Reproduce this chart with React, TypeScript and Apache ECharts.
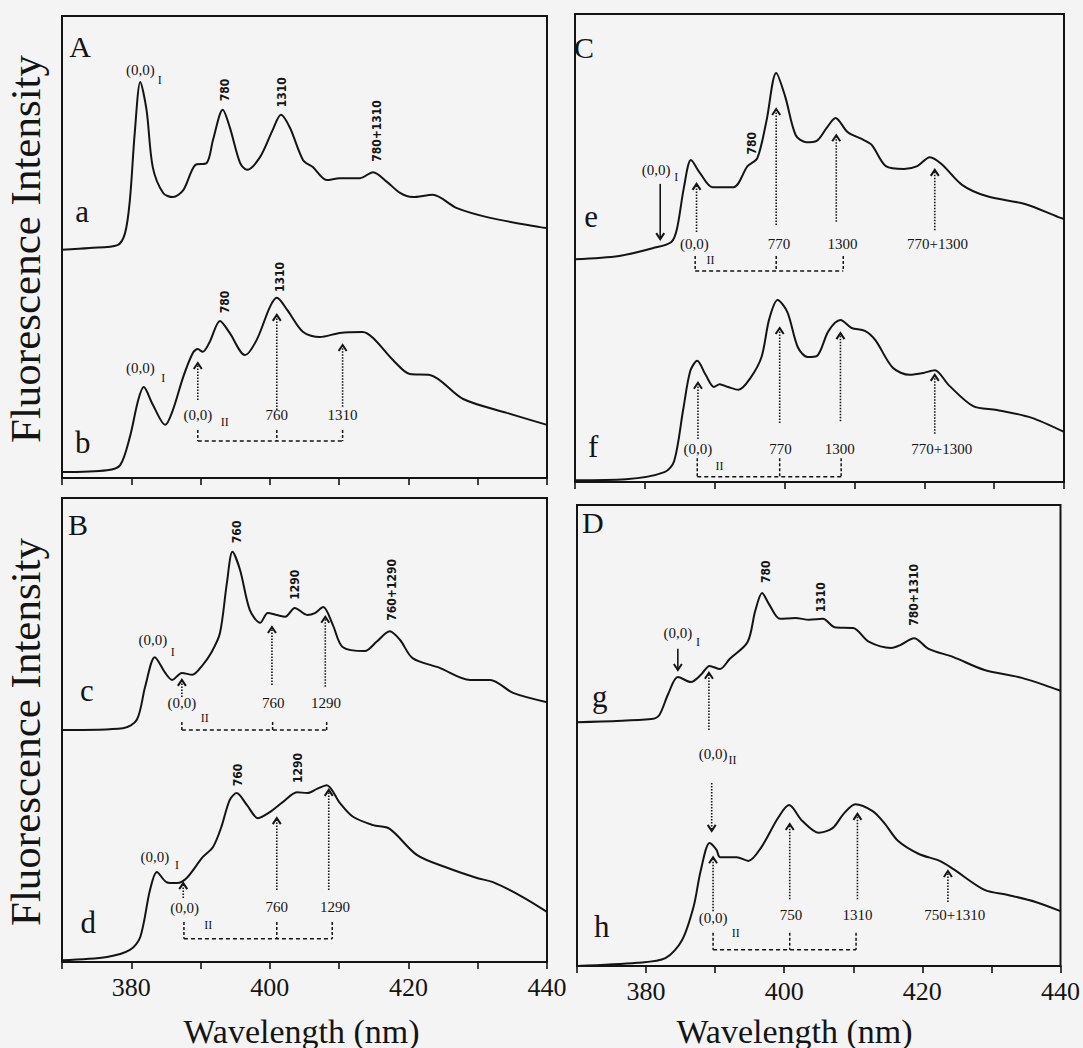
import React, { useEffect, useRef } from "react";
import * as echarts from "echarts";

// ---------- data (wavelength in nm, intensity in arbitrary units, offset per panel) ----------
const WL_MIN = 370;
const WL_MAX = 440;
const tickLabels = [380, 400, 420, 440];

// Panel A, curve a
const aWl = [370, 374, 378, 379.1, 379.8, 380.5, 381.3, 382.2, 383.1, 384.6, 386, 387.5, 389.2, 390.9, 391.8, 393.2, 394.2, 395.7, 396.7, 398.6, 400.4, 401.6, 402.9, 404.8, 406.2, 408.2, 410.1, 413, 414.9, 416.9, 418.8, 420.6, 423.5, 427, 431.8, 439, 440];
const aInt = [49.4, 49.8, 50.4, 53.0, 60.2, 74.7, 85.7, 79.7, 67.3, 61.7, 60.8, 62.3, 67.7, 68.2, 73.2, 79.7, 76.0, 68.2, 66.7, 69.5, 75.3, 78.6, 75.8, 68.8, 67.3, 64.5, 64.9, 64.9, 66.2, 64.1, 61.7, 60.8, 61.3, 58.4, 56.3, 54.3, 54.1];
// Panel A, curve b
const bWl = [370, 376.5, 378.4, 379.8, 381, 381.8, 383, 384.9, 386, 387.5, 388.9, 389.6, 390.3, 391.3, 392.8, 394.2, 396.4, 398.1, 400, 401, 402.5, 404.8, 407.2, 410.1, 413.4, 414.9, 417.8, 420.2, 423.1, 427.9, 434.2, 440];
const bInt = [1.3, 1.7, 2.8, 8.9, 16.9, 19.7, 16.2, 11.5, 14.7, 21.9, 27.1, 27.9, 27.3, 29.4, 34.0, 31.4, 26.6, 29.9, 37.0, 39.0, 36.4, 31.6, 30.5, 31.4, 31.6, 30.3, 25.5, 22.5, 22.3, 17.1, 14.1, 11.5];
// Panel B, curve c
const cWl = [370, 378.8, 380.8, 382, 383.4, 384.9, 385.9, 387.3, 388.8, 390.3, 391.6, 392.8, 393.8, 394.6, 395.7, 397.1, 398.6, 399.7, 401, 402.2, 403.6, 405.4, 406.5, 407.7, 409.1, 410.5, 413.7, 415.4, 417.3, 418.8, 420.6, 424.5, 428.9, 431.8, 435.1, 440];
const cInt = [50.0, 50.4, 52.2, 59.3, 65.7, 62.3, 60.8, 62.3, 61.9, 64.0, 66.8, 70.9, 81.7, 88.4, 84.5, 75.9, 73.1, 75.2, 74.8, 74.4, 76.3, 74.8, 75.2, 76.5, 72.6, 67.9, 67.0, 69.0, 71.3, 69.4, 65.5, 63.4, 60.8, 60.8, 58.0, 56.0];
// Panel B, curve d
const dWl = [370, 376.5, 379.8, 381.3, 382.7, 383.7, 385.1, 386.6, 388, 390.3, 391.8, 393, 394.2, 395.2, 396.7, 398.3, 400, 401.9, 403.9, 405.4, 406.8, 408.2, 410.1, 412, 414.9, 417.3, 421.2, 425.6, 429.9, 432.2, 436.5, 440];
const dInt = [0.4, 1.1, 2.6, 5.4, 15.5, 19.4, 17.2, 17.0, 18.1, 22.6, 24.8, 29.1, 34.9, 36.4, 33.8, 31.0, 32.3, 34.5, 36.6, 36.4, 37.3, 38.1, 34.3, 31.3, 29.5, 28.7, 23.1, 20.3, 18.1, 17.2, 14.0, 10.8];
// Panel C, curve e
const eWl = [370, 376.3, 381.2, 383.8, 384.6, 385.6, 386.6, 387.9, 389.7, 392.7, 394.7, 396.1, 397.4, 398.8, 400.1, 401.6, 403.1, 404.6, 406, 407.3, 409, 411.3, 412.5, 414.5, 417.1, 419, 420.8, 422.5, 425.4, 428.9, 434.4, 439.2, 440];
const eInt = [47.6, 48.3, 50.0, 51.3, 54.1, 63.0, 68.8, 66.0, 63.0, 63.0, 67.5, 69.2, 77.1, 87.4, 82.3, 74.1, 72.6, 72.9, 75.6, 77.8, 74.8, 73.1, 72.0, 67.5, 66.9, 67.5, 69.4, 67.9, 63.5, 61.1, 59.4, 56.6, 56.2];
// Panel C, curve f
const fWl = [370, 377.3, 382.8, 384.2, 385.5, 386.5, 387.5, 388.7, 389.9, 390.7, 391.9, 393.4, 395.1, 396.7, 397.8, 399, 400.4, 401.9, 403.3, 404.6, 406.3, 408, 409.6, 411.5, 413, 415.5, 417.9, 419.9, 421.5, 423.5, 427, 430.4, 435.4, 440];
const fInt = [0.4, 0.6, 2.1, 4.5, 15.6, 23.7, 25.9, 22.9, 20.3, 20.9, 20.3, 19.7, 22.2, 26.7, 34.8, 38.9, 36.3, 28.8, 26.7, 26.9, 32.3, 34.6, 32.9, 32.3, 30.3, 24.4, 22.9, 23.3, 23.9, 20.7, 16.2, 15.4, 13.7, 10.7];
// Panel D, curve g
const gWl = [370, 380.8, 381.9, 383.2, 384.6, 386.5, 387.9, 389.2, 390.7, 392.1, 394.7, 395.8, 396.8, 397.8, 399.4, 401.6, 403.6, 405.6, 407.3, 410, 412.3, 415.5, 416.8, 418.8, 420.9, 424.5, 429, 434.4, 440];
const gInt = [52.9, 53.6, 54.4, 59.0, 62.7, 61.6, 63.1, 65.1, 64.4, 66.6, 70.3, 77.0, 80.9, 78.5, 75.3, 75.5, 75.1, 75.3, 73.5, 73.3, 70.3, 69.0, 69.6, 71.1, 68.8, 67.0, 64.2, 62.5, 59.7];
// Panel D, curve h
const hWl = [370, 378.7, 382.8, 385.2, 386.9, 387.9, 389.2, 390.2, 390.7, 393.1, 394.8, 396.7, 399.1, 400.7, 402.6, 405, 407, 408.6, 410.3, 412.8, 414.5, 416.5, 419.5, 422.5, 424.5, 429, 432.4, 436.4, 440];
const hInt = [0, 0.7, 1.7, 5.6, 13.0, 20.6, 26.7, 25.2, 23.6, 23.6, 22.8, 25.8, 32.1, 34.9, 31.5, 28.9, 29.9, 33.0, 35.1, 33.6, 31.0, 27.1, 24.3, 22.8, 21.0, 16.5, 15.4, 13.9, 11.9];

// curves: [panel index, wavelengths, intensities]
const curves: [number, number[], number[]][] = [
  [0, aWl, aInt], [0, bWl, bInt],
  [1, cWl, cInt], [1, dWl, dInt],
  [2, eWl, eInt], [2, fWl, fInt],
  [3, gWl, gInt], [3, hWl, hInt],
];

// annotation texts: [panel, wavelength, intensity, text, kind]
// kind: P = panel letter, c = curve letter, L = label, S = subscript, V = vertical label
const annotTexts: [number, number, number, string, string][] = [
  [0, 372.6, 93.3, "A", "P"], [0, 372.9, 57.6, "a", "c"], [0, 373.0, 7.6, "b", "c"],
  [0, 381.3, 88.3, "(0,0)", "L"], [0, 384.1, 86.1, "I", "S"],
  [0, 393.5, 84.0, "780", "V"], [0, 401.7, 83.5, "1310", "V"], [0, 415.5, 75.1, "780+1310", "V"],
  [0, 381.3, 23.8, "(0,0)", "L"], [0, 384.6, 21.6, "I", "S"],
  [0, 393.5, 38.1, "780", "V"], [0, 401.5, 43.5, "1310", "V"],
  [0, 389.6, 13.6, "(0,0)", "L"], [0, 393.5, 12.1, "II", "S"],
  [0, 401.0, 13.6, "760", "L"], [0, 410.5, 13.6, "1310", "L"],

  [1, 372.3, 94.2, "B", "P"], [1, 373.6, 58.6, "c", "c"], [1, 373.8, 8.6, "d", "c"],
  [1, 395.3, 92.7, "760", "V"], [1, 403.6, 81.3, "1290", "V"], [1, 417.6, 80.2, "760+1290", "V"],
  [1, 383.1, 69.4, "(0,0)", "L"], [1, 386.0, 66.8, "I", "S"],
  [1, 387.3, 55.8, "(0,0)", "L"], [1, 390.6, 52.6, "II", "S"],
  [1, 400.5, 55.8, "760", "L"], [1, 408.1, 55.8, "1290", "L"],
  [1, 383.4, 22.6, "(0,0)", "L"], [1, 386.6, 20.9, "I", "S"],
  [1, 395.4, 40.3, "760", "V"], [1, 404.1, 41.8, "1290", "V"],
  [1, 387.7, 11.6, "(0,0)", "L"], [1, 391.1, 8.0, "II", "S"],
  [1, 401.0, 11.9, "760", "L"], [1, 409.4, 11.9, "1290", "L"],

  [2, 371.3, 92.9, "C", "P"], [2, 372.3, 56.8, "e", "c"], [2, 372.6, 7.5, "f", "c"],
  [2, 381.6, 66.7, "(0,0)", "L"], [2, 384.5, 65.2, "I", "S"],
  [2, 395.3, 72.4, "780", "V"],
  [2, 387.1, 50.9, "(0,0)", "L"], [2, 389.4, 47.4, "II", "S"],
  [2, 399.2, 50.9, "770", "L"], [2, 408.3, 50.9, "1300", "L"], [2, 421.9, 50.9, "770+1300", "L"],
  [2, 387.6, 7.1, "(0,0)", "L"], [2, 390.7, 3.4, "II", "S"],
  [2, 399.4, 7.1, "770", "L"], [2, 407.9, 7.1, "1300", "L"], [2, 422.5, 7.1, "770+1300", "L"],

  [3, 372.3, 96.3, "D", "P"], [3, 373.3, 58.4, "g", "c"], [3, 373.6, 8.5, "h", "c"],
  [3, 384.6, 72.2, "(0,0)", "L"], [3, 387.5, 70.3, "I", "S"],
  [3, 397.4, 85.5, "780", "V"], [3, 405.3, 80.0, "1310", "V"], [3, 418.8, 80.5, "780+1310", "V"],
  [3, 389.7, 46.0, "(0,0)", "L"], [3, 392.5, 44.7, "II", "S"],
  [3, 389.7, 10.4, "(0,0)", "L"], [3, 393.0, 7.2, "II", "S"],
  [3, 401.0, 11.0, "750", "L"], [3, 410.6, 11.0, "1310", "L"], [3, 424.7, 11.0, "750+1310", "L"],
];

// arrows: [panel, wavelength, tail intensity, head intensity, style]
const annotArrows: [number, number, number, number, string][] = [
  [0, 389.6, 16.9, 24.9, "dot"], [0, 401.0, 14.7, 35.3, "dot"], [0, 410.5, 15.4, 28.8, "dot"],
  [1, 387.3, 57.1, 60.8, "dot"], [1, 400.3, 59.7, 72.2, "dot"], [1, 408.0, 59.3, 74.4, "dot"],
  [1, 387.5, 13.8, 17.0, "dot"], [1, 401.0, 15.5, 31.0, "dot"], [1, 408.5, 15.5, 37.1, "dot"],
  [2, 382.2, 63.7, 51.9, "solid"], [2, 387.4, 53.4, 63.7, "dot"], [2, 398.8, 54.9, 79.7, "dot"],
  [2, 407.4, 55.6, 74.1, "dot"], [2, 421.5, 53.8, 66.7, "dot"],
  [2, 387.6, 9.2, 21.2, "dot"], [2, 399.3, 12.6, 32.9, "dot"], [2, 408.0, 13.0, 31.8, "dot"], [2, 421.5, 10.3, 22.9, "dot"],
  [3, 384.6, 68.8, 64.2, "solid"], [3, 389.1, 51.2, 63.6, "dot"], [3, 389.5, 39.7, 29.3, "dot"],
  [3, 389.7, 11.9, 23.6, "dot"], [3, 400.8, 14.5, 30.8, "dot"], [3, 410.6, 14.5, 33.0, "dot"], [3, 423.7, 13.9, 20.6, "dot"],
];

// brackets: [panel, tick-top intensity, bar intensity, wl1, wl2, wl3]
const annotBrackets: [number, number, number, number, number, number][] = [
  [0, 10.4, 8.0, 389.6, 401.0, 410.5],
  [1, 51.7, 50.0, 387.3, 400.4, 408.2],
  [1, 8.6, 5.0, 387.6, 401.0, 409.0],
  [2, 48.3, 45.1, 387.2, 398.8, 408.4],
  [2, 5.1, 1.1, 387.5, 399.3, 408.1],
  [3, 7.2, 3.5, 389.7, 400.8, 410.4],
];

// ---------- layout ----------
const grids = [
  { left: 62, top: 16, width: 485, height: 462 },
  { left: 62, top: 498, width: 485, height: 464 },
  { left: 575, top: 14, width: 489, height: 468 },
  { left: 577, top: 505, width: 489, height: 461 },
];
const showLabels = [false, true, false, true];

const SERIF = "Liberation Serif";
const NARROW = "DejaVu Sans Condensed, Liberation Sans Narrow, Liberation Sans, sans-serif";
const INK = "#141414";

export default function App() {
  const ref = useRef<HTMLDivElement>(null);

  useEffect(() => {
    if (!ref.current) return;
    const chart = echarts.init(ref.current, undefined, { renderer: "svg" });

    const option: any = {
      animation: false,
      backgroundColor: "#f4f4f4",
      textStyle: { fontFamily: SERIF },
      grid: grids.map((g) => ({ ...g, show: true, borderColor: INK, borderWidth: 2, backgroundColor: "transparent" })),
      xAxis: grids.map((_, i) => ({
        type: "value",
        gridIndex: i,
        min: WL_MIN,
        max: WL_MAX,
        interval: 10,
        axisLine: { show: true, lineStyle: { color: INK, width: 2 } },
        axisTick: { show: true, inside: false, length: 7, lineStyle: { color: INK, width: 1.6 } },
        splitLine: { show: false },
        axisLabel: {
          show: showLabels[i],
          formatter: (v: number) => (tickLabels.includes(v) ? String(v) : ""),
          fontFamily: SERIF,
          fontSize: 26,
          color: INK,
          margin: 12,
          showMinLabel: true,
          showMaxLabel: true,
        },
      })),
      yAxis: grids.map((_, i) => ({
        type: "value",
        gridIndex: i,
        min: 0,
        max: 100,
        axisLine: { show: false },
        axisTick: { show: false },
        axisLabel: { show: false },
        splitLine: { show: false },
      })),
      series: curves.map(([p, wl, it]) => ({
        type: "line",
        xAxisIndex: p,
        yAxisIndex: p,
        data: wl.map((w, k) => [w, it[k]]),
        symbol: "none",
        smooth: 0.3,
        lineStyle: { color: INK, width: 2 },
      })),
    };
    chart.setOption(option);

    const px = (p: number, w: number, v: number) => chart.convertToPixel({ gridIndex: p } as any, [w, v]) as number[];
    const els: any[] = [];

    const txt = (x: number, y: number, text: string, fontSize: number, fontFamily: string, rotation = 0, fontWeight = "normal") => ({
      type: "text", x, y, rotation,
      style: { text, fontSize, fontFamily, fontWeight, fill: INK, align: "center", verticalAlign: "middle" },
    });

    // axis titles
    els.push(txt(grids[0].left + grids[0].width / 2 - 3, 1031, "Wavelength (nm)", 34, SERIF));
    els.push(txt(grids[3].left + grids[3].width / 2 - 27, 1031, "Wavelength (nm)", 34, SERIF));
    [grids[0], grids[1]].forEach((g) =>
      els.push(txt(25, g.top + g.height / 2 + 2, "Fluorescence Intensity", 43, SERIF, Math.PI / 2))
    );

    annotTexts.forEach(([p, w, v, t, kind]) => {
      const [x, y] = px(p, w, v);
      if (kind === "P") els.push(txt(x, y, t, 30, SERIF));
      else if (kind === "c") els.push(txt(x, y, t, 31, SERIF));
      else if (kind === "S") els.push(txt(x, y, t, 12, SERIF));
      else if (kind === "V") els.push(txt(x, y, t, 12, NARROW, Math.PI / 2, "bold"));
      else els.push(txt(x, y, t, 15, SERIF));
    });

    annotArrows.forEach(([p, w, v1, v2, style]) => {
      const [x, y1] = px(p, w, v1);
      const [, y2] = px(p, w, v2);
      const dir = y2 < y1 ? 1 : -1; // 1 = pointing up
      els.push({
        type: "line",
        shape: { x1: x, y1, x2: x, y2 },
        style: { stroke: INK, lineWidth: 1.6, lineDash: style === "dot" ? [1.5, 1.5] : null },
      });
      els.push({
        type: "polyline",
        shape: { points: [[x - 4, y2 + dir * 6], [x, y2], [x + 4, y2 + dir * 6]] },
        style: { stroke: INK, lineWidth: 2, fill: "none" },
      });
    });

    annotBrackets.forEach(([p, vt, vb, w1, w2, w3]) => {
      const [x1, yb] = px(p, w1, vb);
      const [x3] = px(p, w3, vb);
      els.push({ type: "line", shape: { x1, y1: yb, x2: x3, y2: yb }, style: { stroke: INK, lineWidth: 1.5, lineDash: [4, 3] } });
      [w1, w2, w3].forEach((w) => {
        const [x, yt] = px(p, w, vt);
        els.push({ type: "line", shape: { x1: x, y1: yt, x2: x, y2: yb }, style: { stroke: INK, lineWidth: 1.5, lineDash: [3, 2] } });
      });
    });

    chart.setOption({ graphic: els });

    return () => chart.dispose();
  }, []);

  return (
    <div
      ref={ref}
      style={{ position: "absolute", left: 0, top: 0, width: 1083, height: 1048, background: "#f4f4f4" }}
    />
  );
}
